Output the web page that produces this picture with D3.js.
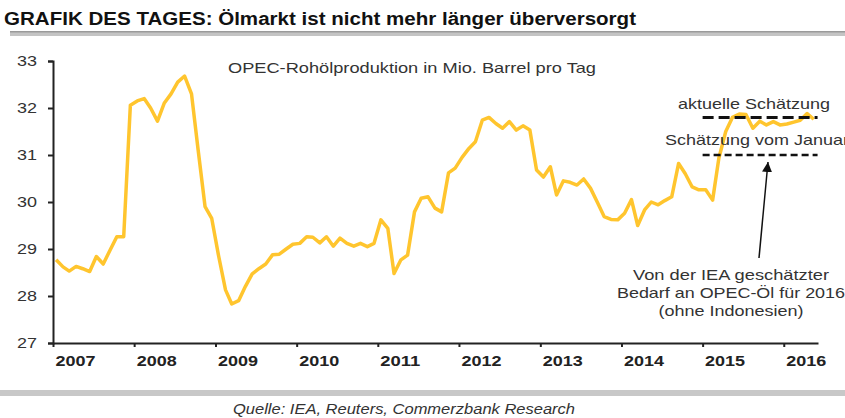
<!DOCTYPE html>
<html>
<head>
<meta charset="utf-8">
<script src="https://cdn.jsdelivr.net/npm/d3@7"></script>
<style>
  body { margin: 0; background: #fff; }
  svg { display: block; font-family: "Liberation Sans", Arial, sans-serif; }
</style>
</head>
<body>
<div id="okvir"></div>
<script>
// Monatswerte OPEC-Rohölproduktion, Jan 2007 bis Mai 2016 (Mio. Barrel pro Tag)
var startMonth = "2007-01";
var production = [
  28.77, 28.62, 28.53, 28.63, 28.58, 28.52, 28.84, 28.68, 28.98, 29.26, 29.26, 32.06, // 2007
  32.15, 32.20, 32.00, 31.72, 32.10, 32.30, 32.55, 32.68, 32.30, 31.10, 29.90, 29.65, // 2008
  28.85, 28.13, 27.83, 27.90, 28.20, 28.47, 28.58, 28.68, 28.88, 28.89, 29.00, 29.10, // 2009
  29.12, 29.26, 29.25, 29.13, 29.26, 29.06, 29.23, 29.12, 29.06, 29.12, 29.05, 29.12, // 2010
  29.62, 29.44, 28.48, 28.77, 28.87, 29.79, 30.08, 30.11, 29.87, 29.79, 30.62, 30.72, // 2011
  30.95, 31.14, 31.28, 31.74, 31.80, 31.67, 31.57, 31.71, 31.53, 31.62, 31.53, 30.68, // 2012
  30.53, 30.75, 30.15, 30.45, 30.42, 30.36, 30.49, 30.29, 29.99, 29.69, 29.63, 29.62, // 2013
  29.76, 30.05, 29.50, 29.83, 30.00, 29.94, 30.03, 30.11, 30.82, 30.60, 30.32, 30.26, // 2014
  30.26, 30.04, 30.93, 31.50, 31.80, 31.87, 31.86, 31.57, 31.72, 31.64, 31.71, 31.64, // 2015
  31.66, 31.70, 31.74, 31.88, 31.76                                                    // 2016
];
var years = [2007, 2008, 2009, 2010, 2011, 2012, 2013, 2014, 2015, 2016];
var yTicks = [27, 28, 29, 30, 31, 32, 33];

// Schätzungen der IEA für den Bedarf an OPEC-Öl 2016
var estimateLabels = ["aktuelle Schätzung", "Schätzung vom Januar"];
var estimateValues = [31.8, 31.0];
var estimateRange = ["2015-01", "2016-06"];

var title = "GRAFIK DES TAGES: Ölmarkt ist nicht mehr länger überversorgt";
var subtitle = "OPEC-Rohölproduktion in Mio. Barrel pro Tag";
var noteLines = ["Von der IEA geschätzter", "Bedarf an OPEC-Öl für 2016", "(ohne Indonesien)"];
var source = "Quelle: IEA, Reuters, Commerzbank Research";

var parseMonth = d3.timeParse("%Y-%m");

// Datenpunkte in der Monatsmitte
var data = production.map(function (v, i) {
    var d = d3.timeMonth.offset(parseMonth(startMonth), i);
    return { date: d3.timeDay.offset(d, 14), value: v };
});

var width = 845;
var height = 418;
var margin = { top: 61, right: 27, bottom: 75, left: 53 };

var svg = d3.select("#okvir")
    .append("svg")
    .attr("width", width)
    .attr("height", height);

// Titel und Linie darunter
svg.append("text")
    .attr("x", 4)
    .attr("y", 25)
    .attr("textLength", 632)
    .attr("lengthAdjust", "spacingAndGlyphs")
    .style("font-size", "17.5px")
    .style("font-weight", "bold")
    .attr("fill", "#111")
    .text(title);

svg.append("rect")
    .attr("x", 10).attr("y", 31)
    .attr("width", width - 10).attr("height", 5)
    .attr("fill", "#c4c4c4");
svg.append("rect")
    .attr("x", 10).attr("y", 31)
    .attr("width", width - 10).attr("height", 1.5)
    .attr("fill", "#9a9a9a");

var x = d3.scaleTime()
    .domain([parseMonth("2007-01"), new Date(2016, 5, 3)])
    .range([margin.left, width - margin.right]);

var y = d3.scaleLinear()
    .domain([27, 33])
    .range([height - margin.bottom, margin.top]);

// y-Achse
var yAxis = svg.append("g")
    .attr("transform", "translate(" + margin.left + ",0)")
    .call(d3.axisLeft(y).tickValues(yTicks).tickSize(5).tickPadding(11).tickFormat(d3.format("d")));
yAxis.select(".domain").attr("stroke", "#222").attr("stroke-width", 2);
yAxis.selectAll(".tick line").attr("stroke", "#222").attr("stroke-width", 2);
yAxis.selectAll("text")
    .attr("textLength", 20)
    .attr("lengthAdjust", "spacingAndGlyphs")
    .style("font-size", "14px")
    .attr("fill", "#333")
    .style("font-family", "'Liberation Sans', Arial, sans-serif");

// x-Achse
var xAxis = svg.append("g")
    .attr("transform", "translate(0," + (height - margin.bottom) + ")")
    .call(d3.axisBottom(x)
        .tickValues(years.map(function (yr) { return new Date(yr, 0, 1); }))
        .tickSize(4).tickSizeOuter(0)
        .tickFormat(d3.timeFormat("%Y")));
xAxis.select(".domain").attr("stroke", "#222").attr("stroke-width", 2);
xAxis.selectAll(".tick line").attr("stroke", "#222").attr("stroke-width", 2);
xAxis.selectAll("text")
    .attr("x", 22)
    .attr("y", 12)
    .attr("textLength", 40)
    .attr("lengthAdjust", "spacingAndGlyphs")
    .style("font-size", "15px")
    .style("font-weight", "bold")
    .attr("fill", "#222")
    .style("font-family", "'Liberation Sans', Arial, sans-serif");

// Untertitel im Diagramm
svg.append("text")
    .attr("x", 412)
    .attr("y", 73)
    .attr("text-anchor", "middle")
    .attr("textLength", 368)
    .attr("lengthAdjust", "spacingAndGlyphs")
    .style("font-size", "14.5px")
    .attr("fill", "#333")
    .text(subtitle);

// Produktionslinie
var line = d3.line()
    .x(function (d) { return x(d.date); })
    .y(function (d) { return y(d.value); });

svg.append("path")
    .datum(data)
    .attr("fill", "none")
    .attr("stroke", "#FFC52E")
    .attr("stroke-width", 3.5)
    .attr("stroke-linejoin", "round")
    .attr("d", line);

// Schätzungslinien
var x0 = x(parseMonth(estimateRange[0]));
var x1 = x(parseMonth(estimateRange[1]));

svg.append("line")
    .attr("x1", x0).attr("x2", x1)
    .attr("y1", y(estimateValues[0])).attr("y2", y(estimateValues[0]))
    .attr("stroke", "#111").attr("stroke-width", 3)
    .attr("stroke-dasharray", "11,5");

svg.append("line")
    .attr("x1", x0).attr("x2", x1)
    .attr("y1", y(estimateValues[1])).attr("y2", y(estimateValues[1]))
    .attr("stroke", "#111").attr("stroke-width", 2.5)
    .attr("stroke-dasharray", "7,4");

svg.append("text")
    .attr("x", 754)
    .attr("y", y(estimateValues[0]) - 8)
    .attr("text-anchor", "middle")
    .attr("textLength", 152)
    .attr("lengthAdjust", "spacingAndGlyphs")
    .style("font-size", "14.5px")
    .attr("fill", "#333")
    .text(estimateLabels[0]);

svg.append("text")
    .attr("x", 665)
    .attr("y", y(estimateValues[1]) - 10)
    .attr("textLength", 184)
    .attr("lengthAdjust", "spacingAndGlyphs")
    .style("font-size", "14.5px")
    .attr("fill", "#333")
    .text(estimateLabels[1]);

// Pfeil zur Schätzung
svg.append("defs").append("marker")
    .attr("id", "pfeil")
    .attr("viewBox", "0 0 10 10")
    .attr("refX", 10).attr("refY", 5)
    .attr("markerWidth", 10).attr("markerHeight", 10)
    .attr("markerUnits", "userSpaceOnUse")
    .attr("orient", "auto")
    .append("path")
    .attr("d", "M0,0 L10,5 L0,10 Z")
    .attr("fill", "#111");

svg.append("line")
    .attr("x1", 759).attr("y1", 258)
    .attr("x2", 768).attr("y2", y(estimateValues[1]) + 7)
    .attr("stroke", "#111").attr("stroke-width", 1.5)
    .attr("marker-end", "url(#pfeil)");

var noteWidths = [196, 228, 145];
svg.append("g")
    .selectAll("text")
    .data(noteLines)
    .enter()
    .append("text")
    .attr("x", 731)
    .attr("y", function (d, i) { return 280 + i * 18; })
    .attr("text-anchor", "middle")
    .attr("textLength", function (d, i) { return noteWidths[i]; })
    .attr("lengthAdjust", "spacingAndGlyphs")
    .style("font-size", "14.5px")
    .attr("fill", "#333")
    .text(function (d) { return d; });

// Fußzeile
svg.append("rect")
    .attr("x", 0).attr("y", 390)
    .attr("width", width).attr("height", 6)
    .attr("fill", "#c8c8c8");

svg.append("text")
    .attr("x", 404)
    .attr("y", 414)
    .attr("text-anchor", "middle")
    .attr("textLength", 342)
    .attr("lengthAdjust", "spacingAndGlyphs")
    .style("font-size", "14px")
    .style("font-style", "italic")
    .attr("fill", "#333")
    .text(source);
</script>
</body>
</html>
